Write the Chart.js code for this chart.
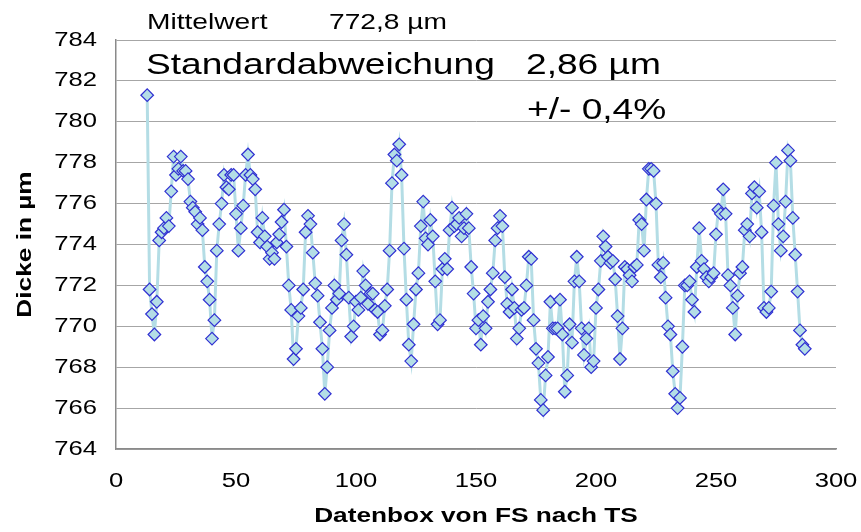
<!DOCTYPE html>
<html lang="de">
<head>
  <meta charset="UTF-8" />
  <title>Dicke je Datenbox</title>
  <script src="https://cdn.jsdelivr.net/npm/chart.js"></script>
  <style>
    body {
      margin: 0;
      background: #fff;
    }
    .wrap {
      position: relative;
      width: 861px;
      height: 532px;
    }
    .note {
      position: absolute;
      font-family: 'Liberation Sans', Arial, sans-serif;
      color: #000;
      line-height: 1;
      white-space: nowrap;
      transform: scaleX(1.28);
      transform-origin: 0 0;
    }
    .small { font-size: 22px; }
    .big { font-size: 29px; }
  </style>
</head>
<body>
  <div class="wrap">
    <canvas id="chart"></canvas>
    <div class="note small" style="left:147px; top:11px;">Mittelwert</div>
    <div class="note small" style="left:329px; top:11px;">772,8 µm</div>
    <div class="note big" style="left:146px; top:50px;">Standardabweichung</div>
    <div class="note big" style="left:526px; top:50px;">2,86 µm</div>
    <div class="note big" style="left:527px; top:95px;">+/- 0,4%</div>
  </div>
  <script>
    // Datenbox-Nummer (x) und gemessene Dicke in µm (y)
    const datenbox = [
      13, 14, 15, 16, 17, 18, 19, 20, 21, 22, 23, 24, 25, 26, 27, 28, 29, 30, 31, 32,
      33, 34, 35, 36, 37, 38, 39, 40, 41, 42, 43, 44, 45, 46, 47, 48, 49, 50, 51, 52,
      53, 54, 55, 56, 57, 58, 59, 60, 61, 62, 63, 64, 65, 66, 67, 68, 69, 70, 71, 72,
      73, 74, 75, 76, 77, 78, 79, 80, 81, 82, 83, 84, 85, 86, 87, 88, 89, 90, 91, 92,
      93, 94, 95, 96, 97, 98, 99, 100, 101, 102, 103, 104, 105, 106, 107, 108, 109, 110, 111, 112,
      113, 114, 115, 116, 117, 118, 119, 120, 121, 122, 123, 124, 125, 126, 127, 128, 129, 130, 131, 132,
      133, 134, 135, 136, 137, 138, 139, 140, 141, 142, 143, 144, 145, 146, 147, 148, 149, 150, 151, 152,
      153, 154, 155, 156, 157, 158, 159, 160, 161, 162, 163, 164, 165, 166, 167, 168, 169, 170, 171, 172,
      173, 174, 175, 176, 177, 178, 179, 180, 181, 182, 183, 184, 185, 186, 187, 188, 189, 190, 191, 192,
      193, 194, 195, 196, 197, 198, 199, 200, 201, 202, 203, 204, 205, 206, 207, 208, 209, 210, 211, 212,
      213, 214, 215, 216, 217, 218, 219, 220, 221, 222, 223, 224, 225, 226, 227, 228, 229, 230, 231, 232,
      233, 234, 235, 236, 237, 238, 239, 240, 241, 242, 243, 244, 245, 246, 247, 248, 249, 250, 251, 252,
      253, 254, 255, 256, 257, 258, 259, 260, 261, 262, 263, 264, 265, 266, 267, 268, 269, 270, 271, 272,
      273, 274, 275, 276, 277, 278, 279, 280, 281, 282, 283, 284, 285, 286, 287
    ];
    const dicke = [
      781.3, 771.8, 770.6, 769.6, 771.2, 774.2, 774.6, 774.8, 775.3, 774.9,
      776.6, 778.3, 777.4, 777.7, 778.3, 777.6, 777.6, 777.2, 776.1, 775.8,
      775.6, 775.0, 775.3, 774.7, 772.9, 772.2, 771.3, 769.4, 770.3, 773.7,
      775.0, 776.0, 777.4, 776.8, 776.7, 777.4, 777.4, 775.5, 773.7, 774.8,
      775.9, 777.4, 778.4, 777.4, 777.2, 776.7, 774.6, 774.1, 775.3, 774.4,
      773.9, 773.3, 773.6, 773.3, 774.1, 774.5, 775.1, 775.7, 773.9, 772.0,
      770.8, 768.4, 768.9, 770.5, 770.9, 771.8, 774.6, 775.4, 775.0, 773.6,
      772.1, 771.5, 770.2, 768.9, 766.7, 768.0, 769.8, 770.9, 772.0, 771.3,
      771.6, 774.2, 775.0, 773.5, 771.4, 769.5, 770.0, 771.2, 770.8, 771.4,
      772.7, 772.0, 771.1, 771.6, 771.6, 770.8, 770.7, 769.6, 769.8, 771.0,
      771.8, 773.7, 777.0, 778.4, 778.1, 778.9, 777.4, 773.8, 771.3, 769.1,
      768.3, 770.1, 771.8, 772.6, 774.9, 776.1, 774.3, 774.0, 775.2, 774.4,
      772.2, 770.1, 770.3, 772.8, 773.3, 772.8, 774.7, 775.8, 774.9, 775.0,
      775.3, 774.4, 774.8, 775.5, 774.8, 772.9, 771.6, 769.9, 770.3, 769.1,
      770.5, 769.9, 771.2, 771.8, 772.6, 774.2, 774.8, 775.4, 774.9, 772.4,
      771.1, 770.7, 771.8, 770.9, 769.4, 769.9, 770.8, 770.9, 772.0, 773.4,
      773.3, 770.3, 768.9, 768.2, 766.4, 765.9, 767.6, 768.5, 771.2, 769.9,
      769.9, 769.9, 771.3, 769.6, 766.8, 767.6, 770.1, 769.2, 772.2, 773.4,
      772.2, 769.9, 768.6, 769.4, 769.9, 768.0, 768.3, 770.9, 771.8, 773.2,
      774.4, 773.9, 773.4, 773.1, 773.2, 772.3, 770.5, 768.4, 769.9, 772.9,
      772.8, 772.5, 772.2, 772.9, 773.0, 775.2, 775.0, 773.7, 776.2, 777.7,
      777.7, 777.6, 776.0, 773.0, 772.4, 773.1, 771.4, 770.0, 769.6, 767.8,
      766.7, 766.0, 766.5, 769.0, 772.0, 772.0, 772.2, 771.3, 770.7, 772.9,
      774.8, 773.2, 772.8, 772.4, 772.2, 772.4, 772.6, 774.5, 775.7, 775.5,
      776.7, 775.5, 772.5, 772.0, 770.9, 769.6, 771.5, 772.6, 772.9, 774.7,
      775.0, 774.4, 776.5, 776.8, 775.8, 776.6, 774.6, 770.9, 770.7, 770.9,
      771.7, 775.9, 778.0, 775.0, 773.7, 774.4, 776.1, 778.6, 778.1, 775.3,
      773.5, 771.7, 769.8, 769.1, 768.9
    ];
    const xTicks = [0, 50, 100, 150, 200, 250, 300];
    const yTicks = [764, 766, 768, 770, 772, 774, 776, 778, 780, 782, 784];

    const canvas = document.getElementById('chart');
    const ctx = canvas.getContext('2d');

    // the reference draws its text wider than Arial, so stretch canvas text sideways
    const TEXT_STRETCH = 1.28;
    const plainFillText = ctx.fillText;
    ctx.fillText = function (text, x, y, maxWidth) {
      this.save();
      this.translate(x, y);
      this.scale(TEXT_STRETCH, 1);
      if (maxWidth === undefined) plainFillText.call(this, text, 0, 0);
      else plainFillText.call(this, text, 0, 0, maxWidth / TEXT_STRETCH);
      this.restore();
    };

    const font = "'Liberation Sans', Arial, sans-serif";
    const axisGray = '#8a8a8a';

    new Chart(ctx, {
      type: 'line',
      data: {
        datasets: [{
          label: 'Dicke',
          data: datenbox.map((x, i) => ({ x: x, y: dicke[i] })),
          borderColor: '#b4dde5',
          borderWidth: 3,
          pointStyle: 'rectRot',
          pointRadius: 6.3,
          pointBackgroundColor: '#b4dee6',
          pointBorderColor: '#3030d2',
          pointBorderWidth: 1.2,
          tension: 0
        }]
      },
      options: {
        responsive: true,
        maintainAspectRatio: false,
        animation: false,
        layout: { padding: { top: 40, right: 25, bottom: 0, left: 0 } },
        plugins: {
          legend: { display: false },
          tooltip: { enabled: false }
        },
        scales: {
          x: {
            type: 'linear',
            min: xTicks[0],
            max: xTicks[xTicks.length - 1],
            afterBuildTicks: (s) => { s.ticks = xTicks.map(v => ({ value: v })); },
            afterFit: (s) => { s.height = 83; s.paddingLeft = 0; s.paddingRight = 0; },
            grid: { display: false, drawTicks: false },
            border: { color: axisGray, width: 1.5 },
            ticks: { color: '#000', padding: 20, font: { family: font, size: 20 } },
            title: {
              display: true,
              text: 'Datenbox von FS nach TS',
              color: '#000',
              padding: { top: 0, bottom: 3 },
              font: { family: font, size: 20.5, weight: 'bold' }
            }
          },
          y: {
            min: yTicks[0],
            max: yTicks[yTicks.length - 1],
            afterBuildTicks: (s) => { s.ticks = yTicks.map(v => ({ value: v })); },
            afterFit: (s) => { s.width = 116; s.paddingTop = 0; s.paddingBottom = 0; },
            grid: { color: '#a6a6a6', lineWidth: 1, drawTicks: false },
            border: { color: axisGray, width: 1.5 },
            ticks: { color: '#000', padding: 19, font: { family: font, size: 20 } },
            title: {
              display: true,
              text: 'Dicke in µm',
              color: '#000',
              padding: { top: 13, bottom: 0 },
              font: { family: font, size: 20.5, weight: 'bold' }
            }
          }
        }
      }
    });
  </script>
</body>
</html>
